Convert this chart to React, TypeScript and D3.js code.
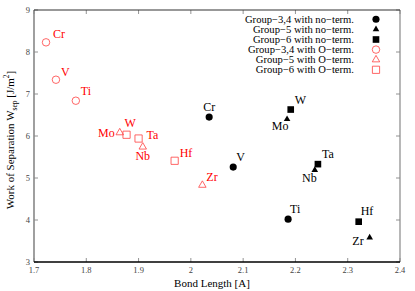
import React from "react";
import { scaleLinear, symbol, symbolTriangle, symbolSquare, symbolCircle } from "d3";

// bond length [A] and work of separation [J/m^2]
const g34NoElems = ["Cr", "V", "Ti"];
const g34NoLen = [2.035, 2.081, 2.186];
const g34NoW = [6.45, 5.26, 4.02];

const g5NoElems = ["Mo", "Nb", "Zr"];
const g5NoLen = [2.184, 2.237, 2.342];
const g5NoW = [6.4, 5.19, 3.58];

const g6NoElems = ["W", "Ta", "Hf"];
const g6NoLen = [2.191, 2.243, 2.321];
const g6NoW = [6.63, 5.33, 3.96];

const g34OElems = ["Cr", "V", "Ti"];
const g34OLen = [1.723, 1.742, 1.78];
const g34OW = [8.23, 7.34, 6.84];

const g5OElems = ["Mo", "Nb", "Zr"];
const g5OLen = [1.864, 1.908, 2.022];
const g5OW = [6.08, 5.74, 4.83];

const g6OElems = ["W", "Ta", "Hf"];
const g6OLen = [1.877, 1.9, 1.969];
const g6OW = [6.03, 5.94, 5.41];

const legendLabels = [
  "Group\u22123,4 with no\u2212term.",
  "Group\u22125 with no\u2212term.",
  "Group\u22126 with no\u2212term.",
  "Group\u22123,4 with O\u2212term.",
  "Group\u22125 with O\u2212term.",
  "Group\u22126 with O\u2212term.",
];

const xTicks = [1.7, 1.8, 1.9, 2.0, 2.1, 2.2, 2.3, 2.4];
const yTicks = [3, 4, 5, 6, 7, 8, 9];

// label placement per point: [dx, dy, anchor]
const labelPos: [number, number, string][][] = [
  [[0, -6, "middle"], [3, -6, "start"], [2, -6, "start"]],
  [[-7, 11, "middle"], [2, 12, "end"], [-6, 7, "end"]],
  [[4, -6, "start"], [4, -6, "start"], [2, -7, "start"]],
  [[7, -4, "start"], [5, -4, "start"], [5, -6, "start"]],
  [[-5, 4, "end"], [0, 13, "middle"], [4, -4, "start"]],
  [[-2, -8, "start"], [8, 0, "start"], [5, -4, "start"]],
];

const series = [
  { elems: g34NoElems, len: g34NoLen, w: g34NoW, shape: "circle", open: false },
  { elems: g5NoElems, len: g5NoLen, w: g5NoW, shape: "triangle", open: false },
  { elems: g6NoElems, len: g6NoLen, w: g6NoW, shape: "square", open: false },
  { elems: g34OElems, len: g34OLen, w: g34OW, shape: "circle", open: true },
  { elems: g5OElems, len: g5OLen, w: g5OW, shape: "triangle", open: true },
  { elems: g6OElems, len: g6OLen, w: g6OW, shape: "square", open: true },
];

const width = 415;
const height = 291;
const left = 34;
const right = 400;
const top = 10;
const bottom = 262;

const serif = "Liberation Serif, DejaVu Serif, Times New Roman, serif";
const txt = { fontFamily: serif };

function Marker({ cx, cy, shape, open }: { cx: number; cy: number; shape: string; open: boolean }) {
  const filledSize: Record<string, number> = { circle: 40, triangle: 19, square: 44 };
  const openSize: Record<string, number> = { circle: 44, triangle: 24, square: 52 };
  const type = shape === "circle" ? symbolCircle : shape === "triangle" ? symbolTriangle : symbolSquare;
  const d = symbol(type, open ? openSize[shape] : filledSize[shape])() || "";
  return (
    <path
      d={d}
      transform={`translate(${cx},${cy})`}
      fill={open ? "none" : "#000"}
      stroke={open ? "#ff4040" : "none"}
      strokeWidth={0.8}
    />
  );
}

export default function App() {
  const x = scaleLinear().domain([1.7, 2.4]).range([left, right]);
  const y = scaleLinear().domain([3, 9]).range([bottom, top]);

  return (
    <svg
      width={width}
      height={height}
      style={{ position: "absolute", left: 0, top: 0, fontFamily: serif }}
    >
      <rect width={width} height={height} fill="#fff" />

      {/* ticks, inward on all four sides */}
      {xTicks.map((t) => (
        <g key={"x" + t}>
          <line x1={x(t)} x2={x(t)} y1={bottom} y2={bottom - 4} stroke="#777" strokeWidth={0.8} />
          <line x1={x(t)} x2={x(t)} y1={top} y2={top + 4} stroke="#777" strokeWidth={0.8} />
          <text x={x(t)} y={bottom + 11} fontSize={8.5} fill="#444" textAnchor="middle" style={txt}>
            {String(t)}
          </text>
        </g>
      ))}
      {yTicks.map((t) => (
        <g key={"y" + t}>
          <line x1={left} x2={left + 4} y1={y(t)} y2={y(t)} stroke="#777" strokeWidth={0.8} />
          <line x1={right} x2={right - 4} y1={y(t)} y2={y(t)} stroke="#777" strokeWidth={0.8} />
          <text x={left - 4} y={y(t) + 3} fontSize={8.5} fill="#444" textAnchor="end" style={txt}>
            {t}
          </text>
        </g>
      ))}

      {/* frame */}
      <line x1={left} x2={left} y1={top} y2={bottom} stroke="#888" strokeWidth={1.6} />
      <line x1={right} x2={right} y1={top} y2={bottom} stroke="#888" strokeWidth={1.2} />
      <line x1={left} x2={right} y1={top} y2={top} stroke="#333" strokeWidth={1.2} />
      <line x1={left} x2={right} y1={bottom} y2={bottom} stroke="#000" strokeWidth={1.4} />

      {/* axis titles */}
      <text x={212} y={287} fontSize={11} textAnchor="middle" fill="#000" style={txt}>
        Bond Length [A]
      </text>
      <text transform="translate(14,140) rotate(-90)" fontSize={11} textAnchor="middle" fill="#000" style={txt}>
        Work of Separation W
        <tspan fontSize={7.5} dy={3}>sep</tspan>
        <tspan dy={-3}> [J/m</tspan>
        <tspan fontSize={7.5} dy={-5}>2</tspan>
        <tspan dy={5}>]</tspan>
      </text>

      {/* points and labels */}
      {series.map((s, si) => (
        <g key={si}>
          {s.len.map((l, i) => {
            const [dx, dy, anchor] = labelPos[si][i];
            return (
              <g key={i}>
                <Marker cx={x(l)} cy={y(s.w[i])} shape={s.shape} open={s.open} />
                <text
                  x={x(l) + dx}
                  y={y(s.w[i]) + dy}
                  fontSize={12}
                  textAnchor={anchor}
                  fill={s.open ? "#ff0000" : "#000"}
                  style={txt}
                >
                  {s.elems[i]}
                </text>
              </g>
            );
          })}
        </g>
      ))}

      {/* legend */}
      {series.map((s, i) => (
        <g key={"leg" + i}>
          <text x={354} y={22.5 + i * 10.1} fontSize={10.6} textAnchor="end" fill="#000" style={txt}>
            {legendLabels[i]}
          </text>
          <Marker cx={376} cy={19.3 + i * 10.1} shape={s.shape} open={s.open} />
        </g>
      ))}
    </svg>
  );
}
